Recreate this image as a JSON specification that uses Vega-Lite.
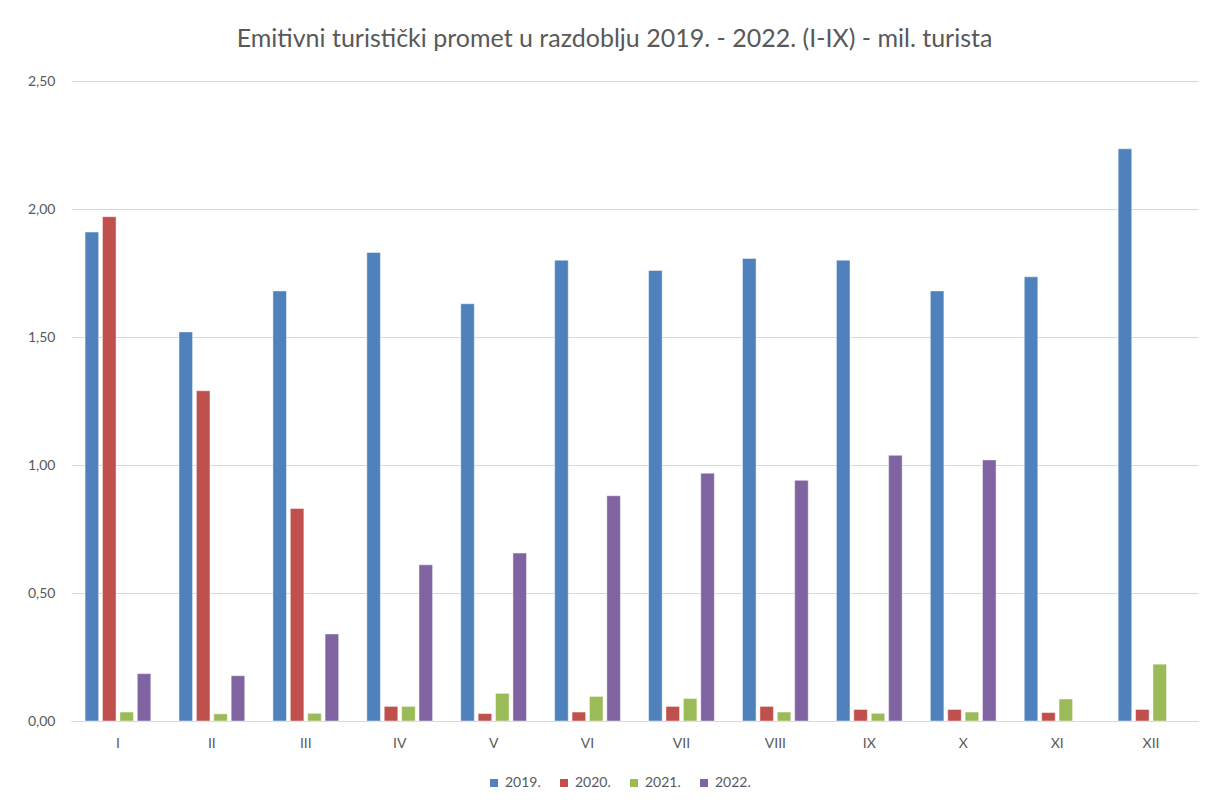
{
  "$schema": "https://vega.github.io/schema/vega-lite/v6.json",
  "autosize": {"type": "none"},
  "width": 1127,
  "height": 640,
  "padding": {"left": 71, "top": 81, "right": 8, "bottom": 84},
  "background": "#ffffff",
  "title": {
    "text": "Emitivni turistički promet u razdoblju 2019. - 2022. (I-IX) - mil. turista",
    "font": "Lato",
    "fontSize": 25,
    "fontWeight": "normal",
    "color": "#595959",
    "anchor": "middle",
    "baseline": "alphabetic",
    "offset": 2,
    "dx": -20
  },
  "data": {
    "values": [
      {"mjesec": "I", "godina": "2019.", "v": 1.91},
      {"mjesec": "I", "godina": "2020.", "v": 1.97},
      {"mjesec": "I", "godina": "2021.", "v": 0.035},
      {"mjesec": "I", "godina": "2022.", "v": 0.185},
      {"mjesec": "II", "godina": "2019.", "v": 1.52},
      {"mjesec": "II", "godina": "2020.", "v": 1.29},
      {"mjesec": "II", "godina": "2021.", "v": 0.028},
      {"mjesec": "II", "godina": "2022.", "v": 0.177},
      {"mjesec": "III", "godina": "2019.", "v": 1.68},
      {"mjesec": "III", "godina": "2020.", "v": 0.83},
      {"mjesec": "III", "godina": "2021.", "v": 0.03},
      {"mjesec": "III", "godina": "2022.", "v": 0.34},
      {"mjesec": "IV", "godina": "2019.", "v": 1.83},
      {"mjesec": "IV", "godina": "2020.", "v": 0.057},
      {"mjesec": "IV", "godina": "2021.", "v": 0.057},
      {"mjesec": "IV", "godina": "2022.", "v": 0.61},
      {"mjesec": "V", "godina": "2019.", "v": 1.63},
      {"mjesec": "V", "godina": "2020.", "v": 0.029},
      {"mjesec": "V", "godina": "2021.", "v": 0.108},
      {"mjesec": "V", "godina": "2022.", "v": 0.656},
      {"mjesec": "VI", "godina": "2019.", "v": 1.8},
      {"mjesec": "VI", "godina": "2020.", "v": 0.035},
      {"mjesec": "VI", "godina": "2021.", "v": 0.096},
      {"mjesec": "VI", "godina": "2022.", "v": 0.88},
      {"mjesec": "VII", "godina": "2019.", "v": 1.76},
      {"mjesec": "VII", "godina": "2020.", "v": 0.057},
      {"mjesec": "VII", "godina": "2021.", "v": 0.088},
      {"mjesec": "VII", "godina": "2022.", "v": 0.968},
      {"mjesec": "VIII", "godina": "2019.", "v": 1.807},
      {"mjesec": "VIII", "godina": "2020.", "v": 0.057},
      {"mjesec": "VIII", "godina": "2021.", "v": 0.035},
      {"mjesec": "VIII", "godina": "2022.", "v": 0.94},
      {"mjesec": "IX", "godina": "2019.", "v": 1.8},
      {"mjesec": "IX", "godina": "2020.", "v": 0.045},
      {"mjesec": "IX", "godina": "2021.", "v": 0.03},
      {"mjesec": "IX", "godina": "2022.", "v": 1.038},
      {"mjesec": "X", "godina": "2019.", "v": 1.68},
      {"mjesec": "X", "godina": "2020.", "v": 0.045},
      {"mjesec": "X", "godina": "2021.", "v": 0.035},
      {"mjesec": "X", "godina": "2022.", "v": 1.02},
      {"mjesec": "XI", "godina": "2019.", "v": 1.735},
      {"mjesec": "XI", "godina": "2020.", "v": 0.033},
      {"mjesec": "XI", "godina": "2021.", "v": 0.086},
      {"mjesec": "XII", "godina": "2019.", "v": 2.235},
      {"mjesec": "XII", "godina": "2020.", "v": 0.045},
      {"mjesec": "XII", "godina": "2021.", "v": 0.222}
    ]
  },
  "mark": {"type": "bar", "stroke": "#ffffff", "strokeOpacity": 0.45, "strokeWidth": 1},
  "encoding": {
    "x": {
      "field": "mjesec",
      "type": "nominal",
      "sort": ["I", "II", "III", "IV", "V", "VI", "VII", "VIII", "IX", "X", "XI", "XII"],
      "scale": {"paddingInner": 0.3, "paddingOuter": 0.15},
      "axis": {
        "title": null,
        "labelAngle": 0,
        "ticks": false,
        "domain": true,
        "domainColor": "#D9D9D9",
        "domainWidth": 1,
        "labelFont": "Lato",
        "labelFontSize": 14,
        "labelColor": "#595959",
        "labelPadding": 15,
        "labelBaseline": "top"
      }
    },
    "xOffset": {
      "field": "godina",
      "type": "nominal",
      "sort": ["2019.", "2020.", "2021.", "2022."],
      "scale": {"paddingInner": 0.22, "paddingOuter": 0}
    },
    "y": {
      "field": "v",
      "type": "quantitative",
      "scale": {"domain": [0, 2.5]},
      "axis": {
        "title": null,
        "values": [0, 0.5, 1, 1.5, 2, 2.5],
        "labelExpr": "replace(format(datum.value, '.2f'), '.', ',')",
        "ticks": false,
        "domain": false,
        "grid": true,
        "gridColor": "#D9D9D9",
        "gridWidth": 1,
        "labelFont": "Lato",
        "labelFontSize": 14,
        "labelColor": "#595959",
        "labelPadding": 16
      }
    },
    "color": {
      "field": "godina",
      "type": "nominal",
      "sort": ["2019.", "2020.", "2021.", "2022."],
      "scale": {
        "domain": ["2019.", "2020.", "2021.", "2022."],
        "range": ["#4F81BD", "#C0504D", "#9BBB59", "#8064A2"]
      },
      "legend": {
        "title": null,
        "orient": "none",
        "legendX": 416,
        "legendY": 695,
        "direction": "horizontal",
        "symbolType": "square",
        "symbolSize": 64,
        "symbolStrokeWidth": 0,
        "labelFont": "Lato",
        "labelFontSize": 14,
        "labelColor": "#595959",
        "columnPadding": 16,
        "labelOffset": 4
      }
    }
  },
  "config": {
    "view": {"stroke": null}
  }
}
